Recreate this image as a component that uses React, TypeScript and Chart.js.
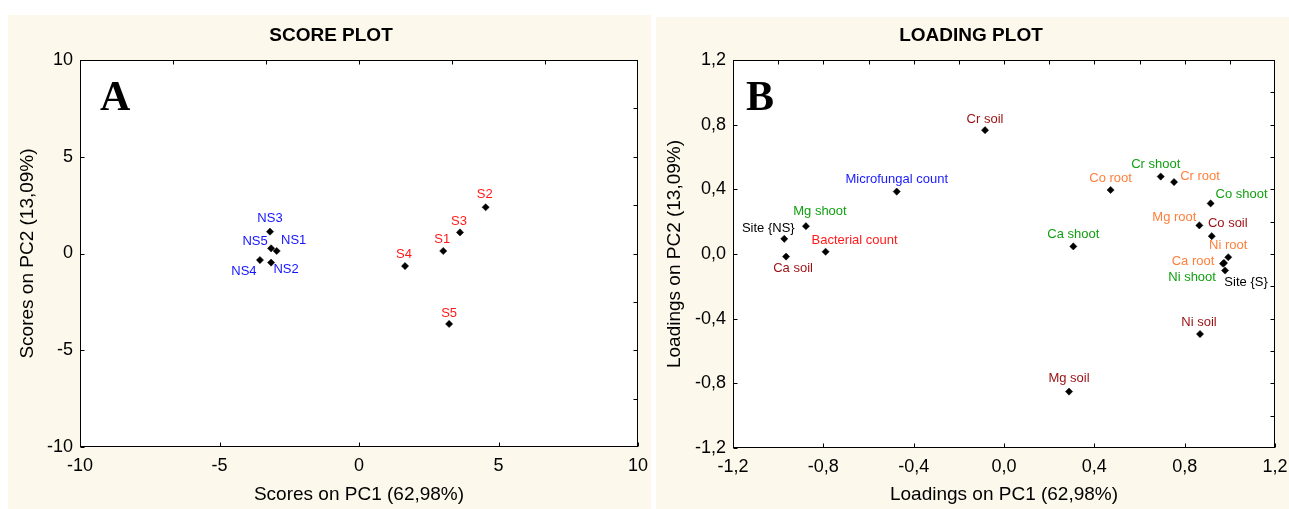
import React, { useEffect, useRef } from 'react';
import { Chart, registerables } from 'chart.js';

Chart.register(...registerables);

const FONT = '"Liberation Sans", Arial, sans-serif';

// ---------- Score plot (A) ----------
const scoreNames = ['NS1', 'NS2', 'NS3', 'NS4', 'NS5', 'S1', 'S2', 'S3', 'S4', 'S5'];
const scorePC1 = [-2.95, -3.15, -3.19, -3.55, -3.15, 3.02, 4.54, 3.62, 1.65, 3.23];
const scorePC2 = [0.13, -0.47, 1.13, -0.34, 0.27, 0.13, 2.39, 1.09, -0.65, -3.64];
const scoreTicks = [-10, -5, 0, 5, 10];
const scoreTickLabels = ['-10', '-5', '0', '5', '10'];
const scoreTopTicks = [-20 / 3, -10 / 3, 0, 10 / 3, 20 / 3];
const scoreRightTicks = [-7.5, -5, -2.5, 0, 2.5, 5, 7.5];

// label styling (colour, offset in px from the marker)
const scoreLabelColors = ['#1414ff', '#1414ff', '#1414ff', '#1414ff', '#1414ff', '#ff1a1a', '#ff1a1a', '#ff1a1a', '#ff1a1a', '#ff1a1a'];
const scoreLabelDx = [17, 15, 0, -16, -16, -1, -1, -1, -1, 0];
const scoreLabelDy = [-11, 7, -13, 11, -7, -12, -13, -11, -12, -11];

// ---------- Loading plot (B) ----------
const loadingNames = [
  'Site {NS}', 'Ca soil', 'Mg shoot', 'Bacterial count', 'Microfungal count', 'Cr soil', 'Mg soil',
  'Ca shoot', 'Co root', 'Cr shoot', 'Cr root', 'Mg root', 'Ni soil', 'Co shoot', 'Co soil',
  'Ca root', 'Ni shoot', 'Site {S}', 'Ni root',
];
const loadingPC1 = [-0.973, -0.965, -0.877, -0.79, -0.475, -0.084, 0.288, 0.307, 0.472, 0.694, 0.753, 0.865, 0.868, 0.915, 0.92, 0.974, 0.979, 0.97, 0.993];
const loadingPC2 = [0.094, -0.016, 0.172, 0.014, 0.386, 0.766, -0.851, 0.047, 0.396, 0.479, 0.445, 0.177, -0.495, 0.313, 0.11, -0.055, -0.102, -0.06, -0.02];
const loadingTicks = [-1.2, -0.8, -0.4, 0, 0.4, 0.8, 1.2];
const loadingTickLabels = ['-1,2', '-0,8', '-0,4', '0,0', '0,4', '0,8', '1,2'];
const loadingMinorTicks = [-1.0, -0.8, -0.6, -0.4, -0.2, 0, 0.2, 0.4, 0.6, 0.8, 1.0];

const SOIL = '#9a0f12';
const SHOOT = '#12a012';
const ROOT = '#ff7f3a';
const loadingLabelColors = [
  '#000000', SOIL, SHOOT, '#ff1a1a', '#1a1aff', SOIL, SOIL,
  SHOOT, ROOT, SHOOT, ROOT, ROOT, SOIL, SHOOT, SOIL,
  ROOT, SHOOT, '#000000', ROOT,
];
const loadingLabelDx = [-16, 7, 14, 29, 0, 0, 0, 0, 0, -5, 26, -25, -1, 31, 16, -31, -33, 23, 0];
const loadingLabelDy = [-10, 12, -15, -11, -12, -11, -13, -12, -12, -12, -6, -8, -12, -9, -13, -1, 7, 19, -12];

const framePlugin = {
  id: 'frame',
  beforeDraw(chart: any) {
    const { ctx, chartArea: a } = chart;
    ctx.save();
    ctx.fillStyle = '#ffffff';
    ctx.fillRect(a.left, a.top, a.right - a.left, a.bottom - a.top);
    ctx.restore();
  },
  afterDraw(chart: any, _args: any, opts: any) {
    const { ctx, chartArea: a, scales } = chart;
    const x = scales.x;
    const y = scales.y;
    const L = 4;
    ctx.save();
    ctx.strokeStyle = '#000000';
    ctx.lineWidth = 1;
    const l = Math.round(a.left) + 0.5;
    const r = Math.round(a.right) - 0.5;
    const t = Math.round(a.top) + 0.5;
    const b = Math.round(a.bottom) - 0.5;
    ctx.strokeRect(l, t, r - l, b - t);
    ctx.beginPath();
    (opts.bottom || []).forEach((v: number) => {
      const px = Math.round(x.getPixelForValue(v)) + 0.5;
      ctx.moveTo(px, b); ctx.lineTo(px, b - L);
    });
    (opts.top || []).forEach((v: number) => {
      const px = Math.round(x.getPixelForValue(v)) + 0.5;
      ctx.moveTo(px, t); ctx.lineTo(px, t + L);
    });
    (opts.left || []).forEach((v: number) => {
      const py = Math.round(y.getPixelForValue(v)) + 0.5;
      ctx.moveTo(l, py); ctx.lineTo(l + L, py);
    });
    (opts.right || []).forEach((v: number) => {
      const py = Math.round(y.getPixelForValue(v)) + 0.5;
      ctx.moveTo(r, py); ctx.lineTo(r - L, py);
    });
    ctx.stroke();
    // panel letter
    ctx.fillStyle = '#000000';
    ctx.font = 'bold 42px "Liberation Serif", "Times New Roman", serif';
    ctx.textAlign = 'left';
    ctx.textBaseline = 'alphabetic';
    ctx.fillText(opts.letter, a.left + opts.letterDx, a.top + 50);
    ctx.restore();
  },
};

const pointLabelPlugin = {
  id: 'pointLabels',
  afterDatasetsDraw(chart: any, _args: any, opts: any) {
    const { ctx } = chart;
    const meta = chart.getDatasetMeta(0);
    ctx.save();
    ctx.font = '13px ' + FONT;
    ctx.textAlign = 'center';
    ctx.textBaseline = 'middle';
    meta.data.forEach((pt: any, i: number) => {
      ctx.fillStyle = opts.colors[i];
      ctx.fillText(opts.names[i], pt.x + opts.dx[i], pt.y + opts.dy[i]);
    });
    ctx.restore();
  },
};

function makeConfig(p: {
  title: string; xTitle: string; yTitle: string;
  xs: number[]; ys: number[]; names: string[]; colors: string[]; dx: number[]; dy: number[];
  min: number; max: number; ticks: number[]; tickLabels: string[];
  topTicks: number[]; rightTicks: number[];
  leftPad: number; yWidth: number; xHeight: number; rightPad: number; yTitlePad: number; letter: string; letterDx: number;
}) {
  const data = p.xs.map((v, i) => ({ x: v, y: p.ys[i] }));
  return {
    type: 'scatter',
    data: {
      datasets: [{
        data,
        pointStyle: 'rectRot',
        radius: 3.6,
        backgroundColor: '#000000',
        borderColor: '#000000',
        borderWidth: 0.5,
      }],
    },
    options: {
      responsive: false,
      animation: false,
      devicePixelRatio: 1,
      layout: { padding: { top: 0, left: p.leftPad, right: p.rightPad, bottom: 0 } },
      plugins: {
        legend: { display: false },
        tooltip: { enabled: false },
        title: {
          display: true,
          text: p.title,
          color: '#000000',
          font: { family: FONT, size: 19, weight: 'bold' },
          padding: { top: 9.5, bottom: 12.7 },
        },
        frame: {
          bottom: p.ticks, left: p.ticks, top: p.topTicks, right: p.rightTicks,
          letter: p.letter, letterDx: p.letterDx,
        },
        pointLabels: { names: p.names, colors: p.colors, dx: p.dx, dy: p.dy },
      },
      scales: {
        x: {
          type: 'linear',
          min: p.min,
          max: p.max,
          grid: { display: false, drawTicks: false },
          border: { display: false },
          afterBuildTicks: (s: any) => { s.ticks = p.ticks.map((v) => ({ value: v })); },
          afterFit: (s: any) => { s.height = p.xHeight; s.paddingLeft = 0; s.paddingRight = 0; },
          ticks: {
            color: '#000000',
            padding: 8,
            maxRotation: 0,
            autoSkip: false,
            font: { family: FONT, size: 18 },
            callback: (_v: any, i: number) => p.tickLabels[i],
          },
          title: {
            display: true,
            text: p.xTitle,
            color: '#000000',
            font: { family: FONT, size: 19 },
            padding: { top: 0, bottom: 3 },
          },
        },
        y: {
          type: 'linear',
          min: p.min,
          max: p.max,
          grid: { display: false, drawTicks: false },
          border: { display: false },
          afterBuildTicks: (s: any) => { s.ticks = p.ticks.map((v) => ({ value: v })); },
          afterFit: (s: any) => { s.width = p.yWidth; s.paddingTop = 0; s.paddingBottom = 0; },
          ticks: {
            color: '#000000',
            padding: 7,
            autoSkip: false,
            font: { family: FONT, size: 18 },
            callback: (_v: any, i: number) => p.tickLabels[i],
          },
          title: {
            display: true,
            text: p.yTitle,
            color: '#000000',
            font: { family: FONT, size: 19 },
            padding: { top: p.yTitlePad, bottom: 0 },
          },
        },
      },
    },
    plugins: [framePlugin, pointLabelPlugin],
  } as any;
}

export default function App() {
  const leftRef = useRef<HTMLCanvasElement>(null);
  const rightRef = useRef<HTMLCanvasElement>(null);

  useEffect(() => {
    const c1 = new Chart(leftRef.current as HTMLCanvasElement, makeConfig({
      title: 'SCORE PLOT',
      xTitle: 'Scores on PC1 (62,98%)',
      yTitle: 'Scores on PC2 (13,09%)',
      xs: scorePC1, ys: scorePC2, names: scoreNames, colors: scoreLabelColors,
      dx: scoreLabelDx, dy: scoreLabelDy,
      min: -10, max: 10, ticks: scoreTicks, tickLabels: scoreTickLabels,
      topTicks: scoreTopTicks, rightTicks: scoreRightTicks,
      leftPad: 16, yWidth: 56, xHeight: 62, rightPad: 13, yTitlePad: -7.4, letter: 'A', letterDx: 20,
    }));
    const c2 = new Chart(rightRef.current as HTMLCanvasElement, makeConfig({
      title: 'LOADING PLOT',
      xTitle: 'Loadings on PC1 (62,98%)',
      yTitle: 'Loadings on PC2 (13,09%)',
      xs: loadingPC1, ys: loadingPC2, names: loadingNames, colors: loadingLabelColors,
      dx: loadingLabelDx, dy: loadingLabelDy,
      min: -1.2, max: 1.2, ticks: loadingTicks, tickLabels: loadingTickLabels,
      topTicks: loadingMinorTicks, rightTicks: loadingMinorTicks,
      leftPad: 11, yWidth: 66, xHeight: 61, rightPad: 14, yTitlePad: -3.4, letter: 'B', letterDx: 13,
    }));
    return () => { c1.destroy(); c2.destroy(); };
  }, []);

  return (
    <div style={{ position: 'absolute', left: 0, top: 0, width: 1289, height: 509, background: '#ffffff', overflow: 'hidden' }}>
      <div style={{ position: 'absolute', left: 8, top: 15, width: 643, height: 494, background: '#fdf8ec' }} />
      <div style={{ position: 'absolute', left: 656, top: 17, width: 633, height: 492, background: '#fdf8ec' }} />
      <canvas ref={leftRef} width={643} height={494} style={{ position: 'absolute', left: 8, top: 15, width: 643, height: 494 }} />
      <canvas ref={rightRef} width={633} height={494} style={{ position: 'absolute', left: 656, top: 15, width: 633, height: 494 }} />
    </div>
  );
}
